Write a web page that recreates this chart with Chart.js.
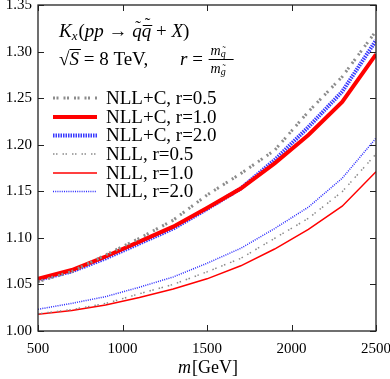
<!DOCTYPE html>
<html>
<head>
<meta charset="utf-8">
<script src="https://cdn.jsdelivr.net/npm/chart.js@4.4.1/dist/chart.umd.min.js"></script>
<style>
html,body{margin:0;padding:0;background:#fff;}
#wrap{width:390px;height:379px;position:relative;}
</style>
</head>
<body>
<div id="wrap"><canvas id="c" width="390" height="379"></canvas></div>
<script>
const masses = [500, 700, 900, 1100, 1300, 1500, 1700, 1900, 2100, 2300, 2500];
const nllc_r05 = [1.053, 1.0637, 1.0816, 1.0995, 1.119, 1.146, 1.169, 1.194, 1.2355, 1.273, 1.322];
const nllc_r10 = [1.056, 1.0655, 1.080, 1.096, 1.112, 1.132, 1.153, 1.180, 1.2105, 1.246, 1.297];
const nllc_r20 = [1.055, 1.064, 1.078, 1.094, 1.110, 1.131, 1.153, 1.1836, 1.219, 1.257, 1.312];
const nll_r05 = [1.0185, 1.023, 1.0295, 1.040, 1.050, 1.0635, 1.078, 1.0995, 1.121, 1.1496, 1.190];
const nll_r10 = [1.018, 1.022, 1.028, 1.036, 1.045, 1.056, 1.070, 1.088, 1.109, 1.134, 1.171];
const nll_r20 = [1.0233, 1.0297, 1.0369, 1.047, 1.058, 1.0727, 1.0888, 1.110, 1.133, 1.164, 1.207];
const seriesLabels = ['NLL+C, r=0.5', 'NLL+C, r=1.0', 'NLL+C, r=2.0', 'NLL, r=0.5', 'NLL, r=1.0', 'NLL, r=2.0'];
const xTicks = [500, 1000, 1500, 2000, 2500];
const yTicks = [1.00, 1.05, 1.10, 1.15, 1.20, 1.25, 1.30, 1.35];
const xTitle = 'm[GeV]';

const styles = [
  {color: '#8c8c8c', width: 3, dash: [2, 1.5, 2, 5]},
  {color: '#ff0000', width: 4, dash: []},
  {color: '#3a3aff', width: 4, dash: [1.5, 1]},
  {color: '#8c8c8c', width: 1.5, dash: [1.5, 1.5, 1.5, 5]},
  {color: '#ff0000', width: 1.5, dash: []},
  {color: '#2a2aff', width: 1.5, dash: [1, 1.2]}
];
const allSeries = [nllc_r05, nllc_r10, nllc_r20, nll_r05, nll_r10, nll_r20];

const datasets = allSeries.map((vals, i) => ({
  label: seriesLabels[i],
  data: masses.map((m, j) => ({x: m, y: vals[j]})),
  borderColor: styles[i].color,
  borderWidth: styles[i].width,
  borderDash: styles[i].dash,
  pointRadius: 0,
  tension: 0,
  fill: false
}));

const SERIF = '"Liberation Serif", "Times New Roman", serif';

function drawParts(ctx, x, y, parts) {
  for (const p of parts) {
    ctx.font = p.f;
    const w = ctx.measureText(p.t).width;
    ctx.fillText(p.t, x, y + (p.dy || 0));
    if (p.after) p.after(ctx, x, y + (p.dy || 0), w);
    x += w + (p.gap || 0);
  }
  return x;
}
function tilde(ctx, x, y, w, size, yoff) {
  ctx.save();
  ctx.font = size + 'px ' + SERIF;
  ctx.textAlign = 'center';
  ctx.fillText('\u02DC', x + w / 2 + 1, y - yoff);
  ctx.restore();
}
function bar(ctx, x, y, w, yoff) {
  ctx.save();
  ctx.lineWidth = 1;
  ctx.strokeStyle = '#000';
  ctx.beginPath();
  ctx.moveTo(x + 1, y - yoff);
  ctx.lineTo(x + w + 1, y - yoff);
  ctx.stroke();
  ctx.restore();
}

const decor = {
  id: 'decor',
  afterDraw(chart) {
    const ctx = chart.ctx;
    const a = chart.chartArea;
    const xs = chart.scales.x, ys = chart.scales.y;
    ctx.save();
    // frame
    ctx.strokeStyle = '#222';
    ctx.lineWidth = 1.3;
    ctx.strokeRect(a.left, a.top, a.right - a.left, a.bottom - a.top);
    // inward ticks on all sides
    ctx.lineWidth = 1;
    const L = 6;
    ctx.beginPath();
    xTicks.forEach(v => {
      const px = Math.round(xs.getPixelForValue(v)) + 0.5;
      ctx.moveTo(px, a.bottom); ctx.lineTo(px, a.bottom - L);
      ctx.moveTo(px, a.top); ctx.lineTo(px, a.top + L);
    });
    yTicks.forEach(v => {
      const py = Math.round(ys.getPixelForValue(v)) + 0.5;
      ctx.moveTo(a.left, py); ctx.lineTo(a.left + L, py);
      ctx.moveTo(a.right, py); ctx.lineTo(a.right - L, py);
    });
    ctx.stroke();

    // header text
    ctx.fillStyle = '#000';
    ctx.textBaseline = 'alphabetic';
    ctx.textAlign = 'left';
    const it = s => 'italic ' + s + 'px ' + SERIF;
    const up = s => s + 'px ' + SERIF;
    drawParts(ctx, 59, 37, [
      {t: 'K', f: it(19)},
      {t: 'x', f: it(13), dy: 3, gap: 1},
      {t: '(', f: up(19)},
      {t: 'pp', f: it(19)},
      {t: ' \u2192 ', f: up(19)},
      {t: 'q', f: it(19), after: (c, x, y, w) => tilde(c, x, y, w, 17, 5)},
      {t: 'q', f: it(19), after: (c, x, y, w) => { bar(c, x, y, w, 11.5); tilde(c, x, y, w, 17, 8); }},
      {t: ' + ', f: up(19)},
      {t: 'X', f: it(19)},
      {t: ')', f: up(19)}
    ]);
    drawParts(ctx, 59, 65, [
      {t: '\u221A', f: up(19)},
      {t: 'S', f: it(19), after: (c, x, y, w) => bar(c, x - 1, y, w + 2, 15.5)},
      {t: ' = 8 TeV,', f: up(19)}
    ]);
    let rx = drawParts(ctx, 180, 65, [
      {t: 'r', f: it(19)},
      {t: ' = ', f: up(19)}
    ]);
    // fraction
    ctx.save();
    ctx.strokeStyle = '#000'; ctx.lineWidth = 1;
    ctx.beginPath(); ctx.moveTo(rx + 1, 59.5); ctx.lineTo(rx + 26, 59.5); ctx.stroke();
    ctx.restore();
    drawParts(ctx, rx + 3, 55, [
      {t: 'm', f: it(14)},
      {t: 'q', f: it(10), dy: 2, after: (c, x, y, w) => tilde(c, x, y, w, 10, 3)}
    ]);
    drawParts(ctx, rx + 3, 73, [
      {t: 'm', f: it(14)},
      {t: 'g', f: it(10), dy: 2, after: (c, x, y, w) => tilde(c, x, y, w, 10, 3)}
    ]);

    // legend
    const rowY = [98, 117, 135.5, 154, 173, 191.5];
    ctx.font = up(19);
    ctx.textBaseline = 'middle';
    chart.data.datasets.forEach((ds, i) => {
      const y = rowY[i];
      ctx.save();
      ctx.strokeStyle = ds.borderColor;
      ctx.lineWidth = ds.borderWidth;
      ctx.setLineDash(ds.borderDash);
      ctx.beginPath(); ctx.moveTo(53, y); ctx.lineTo(97, y); ctx.stroke();
      ctx.restore();
      ctx.fillStyle = '#000';
      ctx.fillText(ds.label, 106, y + 1);
    });

    // x axis title
    ctx.textBaseline = 'alphabetic';
    const m = xTitle.slice(0, 1), rest = xTitle.slice(1);
    drawParts(ctx, 178, 373, [
      {t: m, f: it(18), gap: 1},
      {t: rest, f: up(18)}
    ]);
    ctx.restore();
  }
};

new Chart(document.getElementById('c'), {
  type: 'line',
  data: {datasets},
  options: {
    responsive: false,
    animation: false,
    layout: {padding: {top: 5, right: 14, left: 0, bottom: 0}},
    plugins: {legend: {display: false}, tooltip: {enabled: false}},
    scales: {
      x: {
        type: 'linear', min: 500, max: 2500,
        afterFit: s => { s.height = 48; s.paddingLeft = 0; s.paddingRight = 0; },
        afterBuildTicks: s => { s.ticks = xTicks.map(v => ({value: v})); },
        grid: {display: false, drawTicks: false},
        border: {display: false},
        ticks: {color: '#000', font: {family: SERIF, size: 15}, padding: 9, maxRotation: 0,
                callback: v => String(v)}
      },
      y: {
        type: 'linear', min: 1.0, max: 1.35,
        afterFit: s => { s.width = 38; s.paddingTop = 0; s.paddingBottom = 0; },
        afterBuildTicks: s => { s.ticks = yTicks.map(v => ({value: v})); },
        grid: {display: false, drawTicks: false},
        border: {display: false},
        ticks: {color: '#000', font: {family: SERIF, size: 15}, padding: 6,
                callback: v => Number(v).toFixed(2)}
      }
    }
  },
  plugins: [decor]
});
</script>
</body>
</html>
